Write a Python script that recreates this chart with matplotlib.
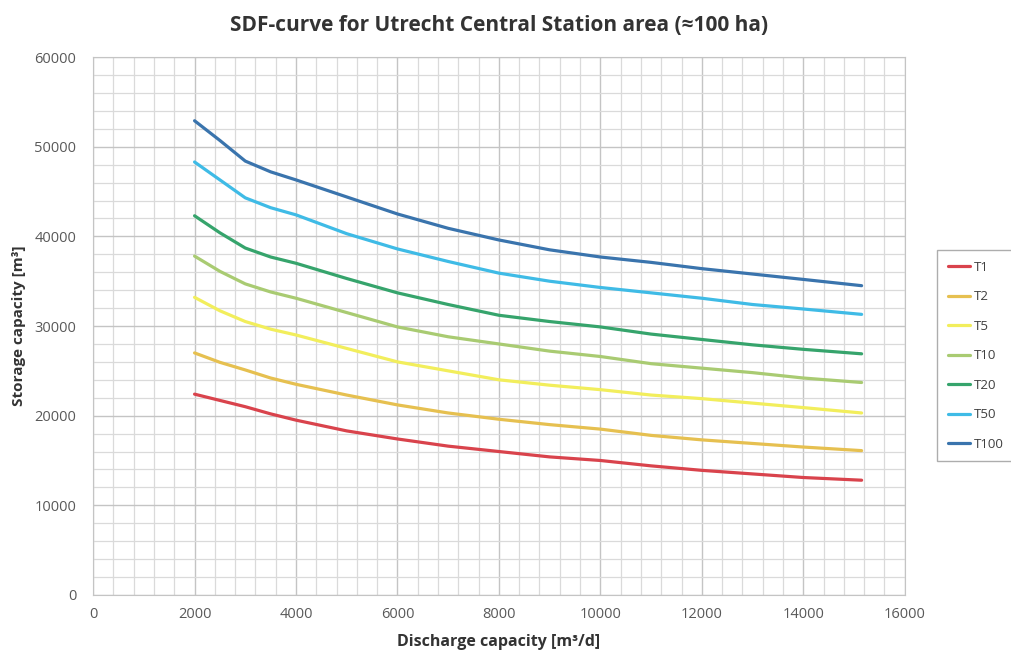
import matplotlib
matplotlib.use("Agg")
import matplotlib.pyplot as plt
from matplotlib.ticker import MultipleLocator

discharge = [2000, 2500, 3000, 3500, 4000, 5000, 6000, 7000, 8000, 9000, 10000,
             11000, 12000, 13000, 14000, 15150]

T1 = [22400, 21700, 21000, 20200, 19500, 18300, 17400, 16600, 16000, 15400, 15000,
      14400, 13900, 13500, 13100, 12800]
T2 = [27000, 25950, 25100, 24200, 23500, 22300, 21200, 20300, 19600, 19000, 18500,
      17800, 17300, 16900, 16500, 16100]
T5 = [33200, 31700, 30500, 29650, 29000, 27500, 26000, 25000, 24000, 23400, 22900,
      22300, 21900, 21400, 20900, 20300]
T10 = [37800, 36100, 34700, 33800, 33100, 31500, 29900, 28800, 28000, 27200, 26600,
       25800, 25300, 24800, 24200, 23700]
T20 = [42300, 40400, 38700, 37700, 37000, 35300, 33700, 32400, 31200, 30500, 29900,
       29100, 28500, 27900, 27400, 26900]
T50 = [48300, 46300, 44300, 43200, 42400, 40300, 38600, 37200, 35900, 35000, 34300,
       33700, 33100, 32400, 31900, 31300]
T100 = [52900, 50700, 48400, 47200, 46300, 44400, 42500, 40900, 39600, 38500, 37700,
        37100, 36400, 35800, 35200, 34500]

series_names = ["T1", "T2", "T5", "T10", "T20", "T50", "T100"]
series_values = [T1, T2, T5, T10, T20, T50, T100]
colors = ["#d9434c", "#e6c050", "#f2ee5c", "#a9cb72", "#36a46c", "#3fbbe6", "#3a74ad"]

title = "SDF-curve for Utrecht Central Station area (\u2248100 ha)"
xlabel = "Discharge capacity [m\u00b3/d]"
ylabel = "Storage capacity [m\u00b3]"

plt.rcParams['font.family'] = ['Open Sans', 'DejaVu Sans']

fig = plt.figure(figsize=(10.12, 6.64), dpi=100)
ax = fig.add_axes([0.092, 0.104, 0.802, 0.81])

for name, vals, c in zip(series_names, series_values, colors):
    ax.plot(discharge, vals, color=c, lw=2.3, label=name,
            solid_capstyle='round', solid_joinstyle='round')

ax.set_xlim(0, 16000)
ax.set_ylim(0, 60000)
ax.xaxis.set_major_locator(MultipleLocator(2000))
ax.xaxis.set_minor_locator(MultipleLocator(400))
ax.yaxis.set_major_locator(MultipleLocator(10000))
ax.yaxis.set_minor_locator(MultipleLocator(2000))
ax.grid(which='major', color='#c4c4c4', lw=1.0)
ax.grid(which='minor', color='#dadada', lw=0.9)
ax.set_axisbelow(True)
for s in ax.spines.values():
    s.set_color('#c4c4c4')
ax.tick_params(which='both', length=0, labelcolor='#595959', labelsize=10.5)
ax.tick_params(axis='x', pad=9)
ax.tick_params(axis='y', pad=12)

ax.set_title(title, fontsize=15, fontweight='bold', color='#333333', pad=19)
ax.set_xlabel(xlabel, fontsize=11.5, fontweight='bold', color='#333333', labelpad=8)
ax.set_ylabel(ylabel, fontsize=11, fontweight='bold', color='#333333', labelpad=6)

leg = fig.legend(loc='upper left', bbox_to_anchor=(0.926, 0.623), frameon=True,
                 fontsize=9.5, handlelength=1.7, handletextpad=0.25,
                 labelspacing=1.25, borderpad=0.8, borderaxespad=0.0,
                 fancybox=False, edgecolor='#999999')
leg.get_frame().set_linewidth(1.0)
for t in leg.get_texts():
    t.set_color('#404040')

fig.savefig("out.png", dpi=100)
